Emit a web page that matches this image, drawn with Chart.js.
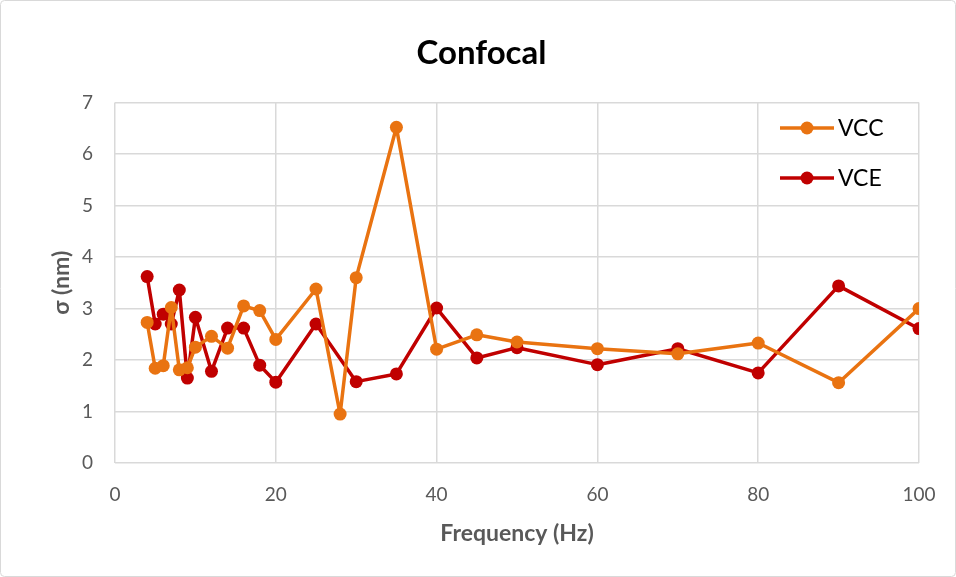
<!DOCTYPE html>
<html>
<head>
<meta charset="utf-8">
<script src="https://cdn.jsdelivr.net/npm/chart.js@4"></script>
<style>
  html, body { margin: 0; padding: 0; background: #fff; }
  #wrap { width: 956px; height: 577px; position: relative; }
</style>
</head>
<body>
<div id="wrap"><canvas id="chart" width="956" height="577"></canvas></div>
<script>
// Frequencies (Hz) shared by both series
const frequencies = [4, 5, 6, 7, 8, 9, 10, 12, 14, 16, 18, 20, 25, 28, 30, 35, 40, 45, 50, 60, 70, 80, 90, 100];
// sigma (nm)
const vccValues = [2.73, 1.84, 1.89, 3.02, 1.81, 1.85, 2.25, 2.46, 2.23, 3.05, 2.96, 2.40, 3.38, 0.95, 3.60, 6.52, 2.21, 2.49, 2.35, 2.22, 2.12, 2.33, 1.56, 3.00];
const vceValues = [3.62, 2.70, 2.89, 2.70, 3.36, 1.65, 2.83, 1.78, 2.62, 2.62, 1.90, 1.57, 2.70, null, 1.58, 1.73, 3.01, 2.04, 2.24, 1.91, 2.22, 1.75, 3.44, 2.61];
const seriesNames = ['VCC', 'VCE'];
const seriesColors = ['#E97311', '#C00000'];

const FONT = 'Lato, "Open Sans", sans-serif';
const GREY = '#595959';

const toPoints = vals => frequencies.map((f, i) => ({ x: f, y: vals[i] }));

// Legend drawn inside the plot area, top right
const insideLegend = {
  id: 'insideLegend',
  afterDraw(chart) {
    const ctx = chart.ctx;
    const rows = [128, 178];
    ctx.save();
    seriesNames.forEach((name, i) => {
      const y = rows[i];
      ctx.strokeStyle = seriesColors[i];
      ctx.lineWidth = 3.5;
      ctx.beginPath();
      ctx.moveTo(780, y);
      ctx.lineTo(834, y);
      ctx.stroke();
      ctx.fillStyle = seriesColors[i];
      ctx.beginPath();
      ctx.arc(807, y, 6.5, 0, Math.PI * 2);
      ctx.fill();
      ctx.fillStyle = '#000';
      ctx.font = '23px ' + FONT;
      ctx.textBaseline = 'middle';
      ctx.fillText(name, 838, y + 1);
    });
    ctx.restore();
  }
};

// Light rounded frame around the whole chart
const frame = {
  id: 'frame',
  afterDraw(chart) {
    const ctx = chart.ctx;
    ctx.save();
    ctx.strokeStyle = '#d9d9d9';
    ctx.lineWidth = 1;
    ctx.beginPath();
    ctx.roundRect(0.5, 0.5, 955, 576, 4);
    ctx.stroke();
    ctx.restore();
  }
};

const datasets = [vccValues, vceValues].map((vals, i) => ({
  label: seriesNames[i],
  data: toPoints(vals),
  borderColor: seriesColors[i],
  backgroundColor: seriesColors[i],
  borderWidth: 3.5,
  borderJoinStyle: 'round',
  pointRadius: 6.5,
  pointHoverRadius: 6.5,
  pointBorderWidth: 0,
  spanGaps: true,
  tension: 0
}));

new Chart(document.getElementById('chart'), {
  type: 'line',
  data: { datasets: datasets },
  options: {
    responsive: false,
    animation: false,
    layout: { padding: { left: 44, right: 37, top: 0, bottom: 26 } },
    plugins: {
      legend: { display: false },
      tooltip: { enabled: false },
      title: {
        display: true,
        text: 'Confocal',
        color: '#000',
        font: { family: FONT, size: 33, weight: 'bold' },
        padding: { top: 34, bottom: 29 }
      }
    },
    scales: {
      x: {
        type: 'linear',
        min: 0,
        max: 100,
        ticks: { stepSize: 20, color: GREY, font: { family: FONT, size: 19 }, padding: 20 },
        grid: { color: '#d9d9d9', lineWidth: 1.5, drawTicks: false },
        border: { display: false },
        title: { display: true, text: 'Frequency (Hz)', color: GREY, font: { family: FONT, size: 23, weight: 'bold' } },
        afterFit: s => { s.height = 88; }
      },
      y: {
        min: 0,
        max: 7,
        ticks: { stepSize: 1, color: GREY, font: { family: FONT, size: 19 }, padding: 22 },
        grid: { color: '#d9d9d9', lineWidth: 1.5, drawTicks: false },
        border: { display: false },
        title: { display: true, text: 'σ (nm)', color: GREY, font: { family: FONT, size: 23, weight: 'bold' } },
        afterFit: s => { s.width = 71; }
      }
    }
  },
  plugins: [insideLegend, frame]
});
</script>
</body>
</html>
